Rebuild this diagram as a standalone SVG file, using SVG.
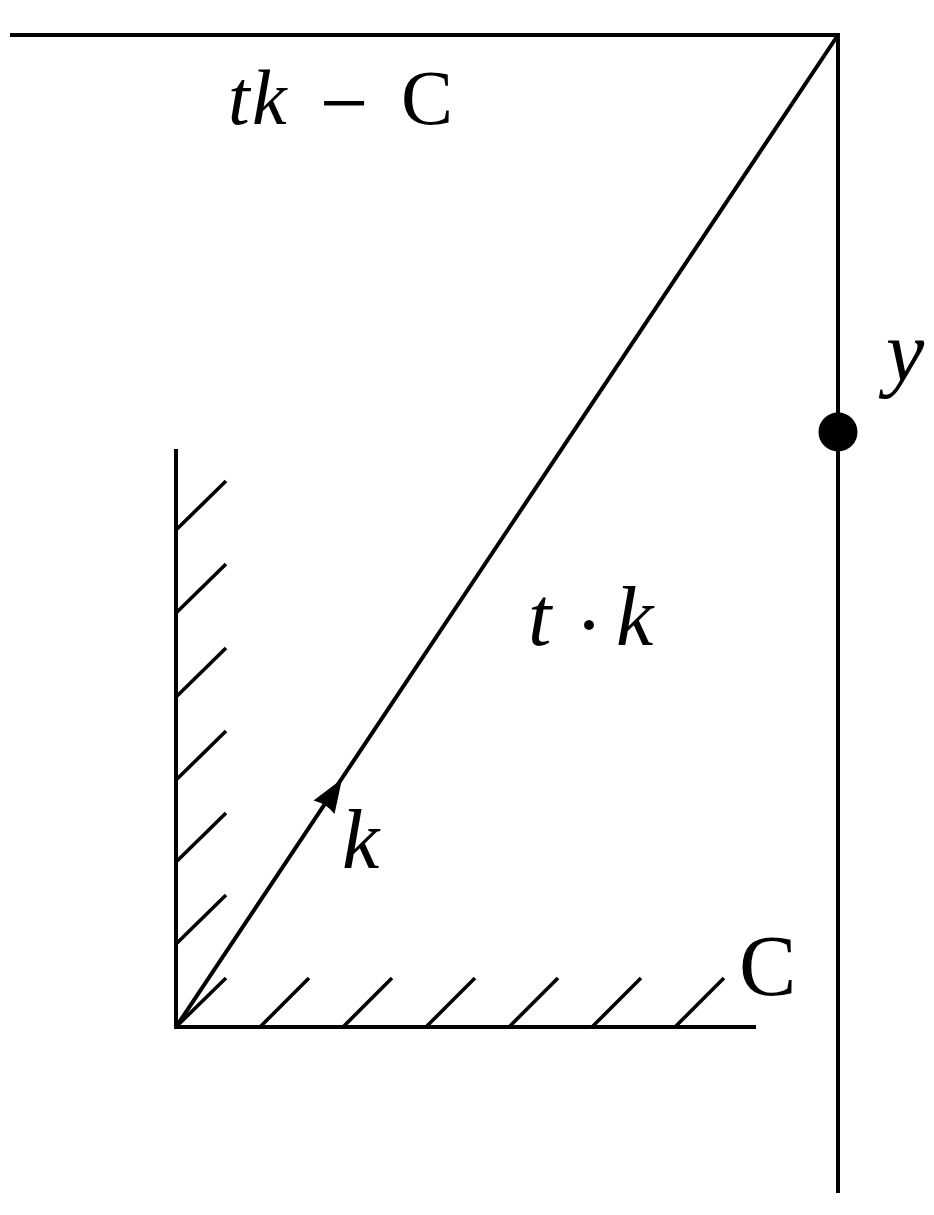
<svg xmlns="http://www.w3.org/2000/svg" width="934" height="1215" viewBox="0 0 934 1215">
<style>
.ln{stroke:#000;stroke-width:4;fill:none}
.h{stroke:#000;stroke-width:3.6;fill:none}
text{font-family:"Liberation Serif","Times New Roman",serif;fill:#000}
.i{font-style:italic}
</style>
<rect width="934" height="1215" fill="#fff"/>
<g id="connectors">
<line class="ln" x1="10" y1="35" x2="840" y2="35"/>
<line class="ln" x1="838" y1="33" x2="838" y2="1193"/>
<line class="ln" x1="176" y1="1027" x2="838" y2="35"/>
<path d="M342,779 L334.5,814 Q327,804 313.5,800.5 Z" fill="#000"/>
</g>
<g id="cone">
<line class="ln" x1="176" y1="449" x2="176" y2="1029"/>
<line class="ln" x1="174" y1="1027" x2="756" y2="1027"/>
<g id="hatches">
<path class="h" d="M176,530 l50,-49 M176,613 l50,-49 M176,697 l50,-49 M176,780 l50,-49 M176,862 l50,-49 M176,944 l50,-49 M178,1025 l48,-47 M260,1027 l49,-49 M343,1027 l49,-49 M426,1027 l49,-49 M509,1027 l49,-49 M592,1027 l49,-49 M675,1027 l49,-49"/>
</g>
</g>
<g id="point-y">
<circle cx="838" cy="432" r="19.5" fill="#000"/>
<text class="i" x="886" y="380" font-size="86">y</text>
</g>
<g id="labels">
<text y="124" font-size="78"><tspan class="i" x="228">t</tspan><tspan class="i" x="252">k</tspan><tspan x="320" dy="8" font-size="86">−</tspan><tspan x="401" dy="-8">C</tspan></text>
<text y="645" font-size="84"><tspan class="i" x="528">t</tspan><tspan x="575" dy="8">·</tspan><tspan class="i" x="616" dy="-8">k</tspan></text>
<text class="i" x="342" y="868" font-size="84">k</text>
<text x="739" y="995" font-size="86">C</text>
</g>
</svg>
